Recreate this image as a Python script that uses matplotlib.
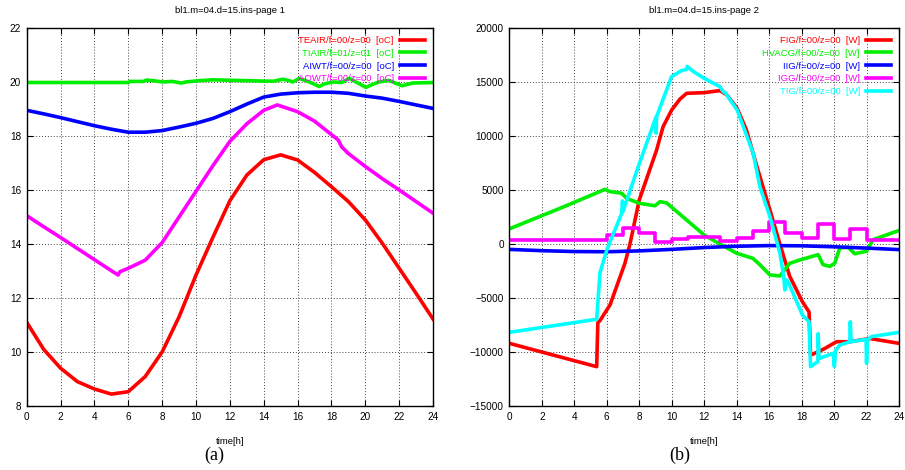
import numpy as np
import matplotlib
matplotlib.use("Agg")
import matplotlib.pyplot as plt
from matplotlib import font_manager

# narrow sans if we have it, plain Liberation Sans otherwise
def pick_font(*names):
    for n in names:
        try:
            font_manager.findfont(n, fallback_to_default=False)
            return n
        except Exception:
            pass
    return "DejaVu Sans"

SANS = pick_font("Liberation Sans Narrow", "Liberation Sans")
NARROW = SANS == "Liberation Sans Narrow"
plt.rcParams['font.family'] = [SANS, 'DejaVu Sans']

# -------------------- page 1: temperatures [oC] --------------------
hours = list(range(25))
teair = [11.1, 10.1, 9.4, 8.9, 8.63, 8.44, 8.53, 9.09, 10.0, 11.3, 12.85, 14.25, 15.6,
         16.55, 17.12, 17.3, 17.11, 16.65, 16.12, 15.57, 14.89, 14.03, 13.1, 12.17, 11.22]

tiair_t = [0, 6.0, 6.1, 6.9, 7.07, 7.3, 8.05, 8.6, 9.13, 9.4, 10.2, 11, 12.17, 13, 14.14,
           14.6, 15.12, 15.5, 15.71, 16.1, 16.7, 17.28, 17.6, 18.07, 18.6, 19.05, 19.3,
           20.04, 20.4, 20.8, 21.4, 21.8, 22.19, 22.78, 24]
tiair = [19.98, 19.98, 20.02, 20.02, 20.07, 20.06, 20.0, 20.02, 19.96, 20.0, 20.05, 20.08,
         20.06, 20.05, 20.03, 20.03, 20.1, 20.05, 20.0, 20.13, 20.0, 19.83, 19.93, 20.0,
         19.98, 20.13, 20.05, 19.8, 19.9, 20.0, 20.06, 19.95, 19.86, 19.96, 19.98]

aiwt = [18.95, 18.82, 18.68, 18.53, 18.38, 18.25, 18.14, 18.14, 18.2, 18.33, 18.47, 18.65,
        18.9, 19.18, 19.44, 19.55, 19.6, 19.62, 19.62, 19.58, 19.48, 19.4, 19.28, 19.15, 19.02]

aowt_t = [0, 1, 2, 3, 4, 5, 5.4, 5.5, 6, 7, 8, 9, 10, 11, 12, 13, 14, 14.8, 16, 17, 18,
          18.4, 18.6, 19, 20, 21, 22, 23, 24]
aowt = [15.05, 14.64, 14.24, 13.83, 13.42, 13.01, 12.85, 12.97, 13.1, 13.4, 14.05, 15.0,
        15.95, 16.9, 17.8, 18.45, 18.95, 19.15, 18.9, 18.55, 18.05, 17.85, 17.6, 17.35,
        16.87, 16.42, 16.0, 15.57, 15.14]

# -------------------- page 2: gains [W] --------------------
fig_t = [0, 5.38, 5.45, 5.58, 6.2, 7.12, 7.43, 8.0, 9.07, 9.47, 10.0, 10.5, 10.92, 12.0,
         12.97, 13.4, 14.03, 14.6, 15.3, 16.05, 16.66, 17.27, 18.05, 18.46, 18.55, 19.4,
         20.15, 20.97, 22.2, 24]
fig_w = [-9200, -11360, -7300, -7100, -5650, -1790, 0, 4070, 8700, 10860, 12410, 13400,
         13950, 14010, 14200, 13800, 12560, 10560, 6900, 3150, 0, -3000, -5350, -6300,
         -10300, -9700, -9050, -9050, -8750, -9200]

hvacg_t = [0, 3.12, 5.9, 6.2, 6.92, 7.22, 8.0, 8.97, 9.28, 9.69, 10.92, 12.0, 12.97, 14.0,
           15.0, 15.43, 16.05, 16.66, 17.27, 17.89, 19.02, 19.32, 19.74, 20.04, 20.35,
           20.86, 21.27, 22.0, 22.4, 24]
hvacg_w = [1400, 3300, 5060, 4850, 4700, 4230, 3770, 3540, 3920, 3800, 2220, 830, 0, -860,
           -1330, -1920, -2870, -2960, -1790, -1480, -990, -1910, -2070, -1790, -370,
           -300, -900, -680, 400, 1250]

iig_t = [0, 2, 4, 6, 8, 10, 12, 14, 16, 18, 20, 22, 24]
iig_w = [-500, -620, -700, -720, -640, -500, -330, -210, -150, -170, -260, -380, -520]

igg_t = [0, 6, 7, 8, 9, 10, 11, 13, 14, 15, 16, 17, 18, 19, 20, 21, 22, 24]
igg_w = [370, 830, 1510, 990, 210, 430, 620, 300, 520, 1200, 2070, 990, 520, 1850, 430,
         1380, 340, 340]

tig_t = [0, 5.38, 5.58, 6.0, 6.92, 6.97, 7.0, 7.94, 9.02, 9.04, 9.07, 9.99, 10.6, 10.92,
         10.95, 11.3, 12.0, 12.97, 13.17, 13.3, 14.03, 15.02, 15.43, 16.05, 16.66, 16.9,
         16.97, 17.05, 17.17, 18.05, 18.46, 18.55, 19.0, 19.02, 19.08, 19.94, 20.02,
         20.08, 20.35, 20.97, 21.0, 21.05, 21.97, 22.0, 22.05, 22.3, 24]
tig_w = [-8180, -6970, -2690, -560, 2840, 3980, 3000, 7160, 11700, 10250, 11790, 15490,
         16050, 16170, 16450, 16000, 15340, 14560, 14100, 14000, 12410, 8400, 5300, 2530,
         -830, -3000, -4260, -3300, -3490, -6580, -7200, -11360, -10900, -8300, -10600,
         -10130, -11360, -9900, -9360, -9050, -7200, -9050, -8830, -11050, -8900, -8580,
         -8180]

RED, GREEN, BLUE, MAG, CYAN = "#ff0000", "#00ee00", "#0000ff", "#ff00ff", "#00ffff"
LW = 2.6
FS_TICK = 8 if NARROW else 7.2
FS_TXT = 8 if NARROW else 6.8


def style_axes(ax, yticks, title):
    ax.set_xlim(0, 24)
    ax.set_xticks(range(0, 25, 2))
    ax.set_ylim(yticks[0], yticks[-1])
    ax.set_yticks(yticks)
    ax.grid(True, color="#444444", linestyle=(0, (1, 2)), linewidth=0.7)
    ax.tick_params(direction="in", top=True, right=True, length=4, width=0.8,
                   labelsize=FS_TICK, pad=4)
    for s in ax.spines.values():
        s.set_linewidth(1.0)
    ax.set_title(title, fontsize=FS_TXT, pad=11)
    ax.set_xlabel("time[h]", fontsize=FS_TXT, labelpad=11)
    ax.legend(loc="upper right", bbox_to_anchor=(1.0, 1.0), frameon=False,
              markerfirst=False, labelcolor="linecolor", fontsize=FS_TXT,
              handlelength=2.6, handletextpad=0.7, labelspacing=0.4,
              borderaxespad=0.45)


fig = plt.figure(figsize=(9.05, 4.70), dpi=100)
ax1 = fig.add_axes([0.0295, 0.1362, 0.449, 0.8043])
ax2 = fig.add_axes([0.5628, 0.1362, 0.4306, 0.8043])

ax1.plot(hours, teair, color=RED, lw=LW, label="TEAIR/f=00/z=00  [oC]")
ax1.plot(tiair_t, tiair, color=GREEN, lw=LW, label="TIAIR/f=01/z=01  [oC]")
ax1.plot(hours, aiwt, color=BLUE, lw=LW, label="AIWT/f=00/z=00  [oC]")
ax1.plot(aowt_t, aowt, color=MAG, lw=LW, label="AOWT/f=00/z=00  [oC]")
style_axes(ax1, list(range(8, 23, 2)), "bl1.m=04.d=15.ins-page 1")

ax2.plot(fig_t, fig_w, color=RED, lw=LW, label="FIG/f=00/z=00  [W]")
ax2.plot(hvacg_t, hvacg_w, color=GREEN, lw=LW, label="HVACG/f=00/z=00  [W]")
ax2.plot(iig_t, iig_w, color=BLUE, lw=LW, label="IIG/f=00/z=00  [W]")
ax2.plot(igg_t, igg_w, color=MAG, lw=LW, drawstyle="steps-post", label="IGG/f=00/z=00  [W]")
ax2.plot(tig_t, tig_w, color=CYAN, lw=LW, label="TIG/f=00/z=00  [W]")
style_axes(ax2, list(range(-15000, 20001, 5000)), "bl1.m=04.d=15.ins-page 2")

fig.text(214 / 905, 1 - 455 / 470, "(a)", ha="center", va="center", fontsize=13,
         family=["Liberation Serif", "DejaVu Serif"])
fig.text(680 / 905, 1 - 455 / 470, "(b)", ha="center", va="center", fontsize=13,
         family=["Liberation Serif", "DejaVu Serif"])

fig.savefig("out.png", dpi=100)
